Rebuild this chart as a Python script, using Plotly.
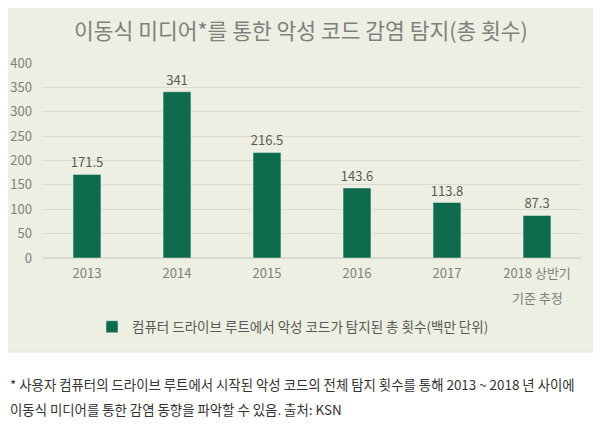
import plotly.graph_objects as go

categories = ["2013", "2014", "2015", "2016", "2017", "2018 상반기"]
last_category_note = "기준 추정"
values = [171.5, 341, 216.5, 143.6, 113.8, 87.3]
value_labels = ["171.5", "341", "216.5", "143.6", "113.8", "87.3"]
y_ticks = [0, 50, 100, 150, 200, 250, 300, 350, 400]
series_name = "컴퓨터 드라이브 루트에서 악성 코드가 탐지된 총 횟수(백만 단위)"
title_text = "이동식 미디어*를 통한 악성 코드 감염 탐지(총 횟수)"
footnote_lines = [
    "* 사용자 컴퓨터의 드라이브 루트에서 시작된 악성 코드의 전체 탐지 횟수를 통해 2013 ~ 2018 년 사이에",
    "이동식 미디어를 통한 감염 동향을 파악할 수 있음. 출처: KSN",
]

FONT = "Noto Sans CJK KR, Malgun Gothic, sans-serif"
OFF = 8  # page body margin
W, H = 601 - OFF, 428 - OFF
L, R, T, B = 42 - OFF, 19, 63 - OFF, 170
pw, ph = W - L - R, H - T - B

def px_x(x):
    return (x - OFF - L) / pw

def px_y(y):
    return (H - B - (y - OFF)) / ph

fig = go.Figure()
fig.add_trace(go.Bar(
    x=categories, y=values, name=series_name,
    marker_color="#0F6B4E", width=0.31,
    text=value_labels, textposition="outside", constraintext="none",
    textfont=dict(size=13, color="#595959", family=FONT),
    cliponaxis=False,
))

fig.add_shape(type="rect", xref="paper", yref="paper",
              x0=px_x(3), x1=px_x(597), y0=px_y(352), y1=px_y(4),
              fillcolor="#ECEFE1", line=dict(color="#E2E5D6", width=1), layer="below")

fig.add_annotation(text=title_text, xref="paper", yref="paper",
                   x=px_x(301), y=px_y(30), xanchor="center", yanchor="middle",
                   showarrow=False, font=dict(size=21.5, color="#7F7F7F", family=FONT))

fig.add_annotation(text=last_category_note, xref="x", yref="paper",
                   x=categories[-1], y=px_y(297), xanchor="center", yanchor="middle",
                   showarrow=False, font=dict(size=13, color="#7F7F7F", family=FONT))

for i, line in enumerate(footnote_lines):
    fig.add_annotation(text=line, xref="paper", yref="paper",
                       x=px_x(8), y=px_y(384 + 25 * i), xanchor="left", yanchor="middle",
                       showarrow=False, font=dict(size=13.4, color="#333333", family=FONT))

fig.update_layout(
    width=W, height=H,
    margin=dict(l=L, r=R, t=T, b=B),
    paper_bgcolor="white", plot_bgcolor="rgba(0,0,0,0)",
    font=dict(family=FONT, color="#7F7F7F", size=13),
    showlegend=True,
    legend=dict(orientation="h", x=px_x(293), xanchor="center", y=px_y(327), yanchor="middle",
                font=dict(size=13.5, color="#595959", family=FONT),
                bgcolor="rgba(0,0,0,0)", itemwidth=30),
    xaxis=dict(showgrid=False, showline=False, ticks="", automargin=False,
               tickfont=dict(size=13, color="#7F7F7F"), ticklabelstandoff=6),
    yaxis=dict(range=[0, 400], tickvals=y_ticks, showgrid=True, gridcolor="#D9DCCB",
               gridwidth=1, zeroline=True, zerolinecolor="#D9DCCB", showline=False,
               automargin=False,
               tickfont=dict(size=13, color="#7F7F7F"), ticklabelstandoff=9),
    bargap=0.69,
)

fig.write_html("out.html")
